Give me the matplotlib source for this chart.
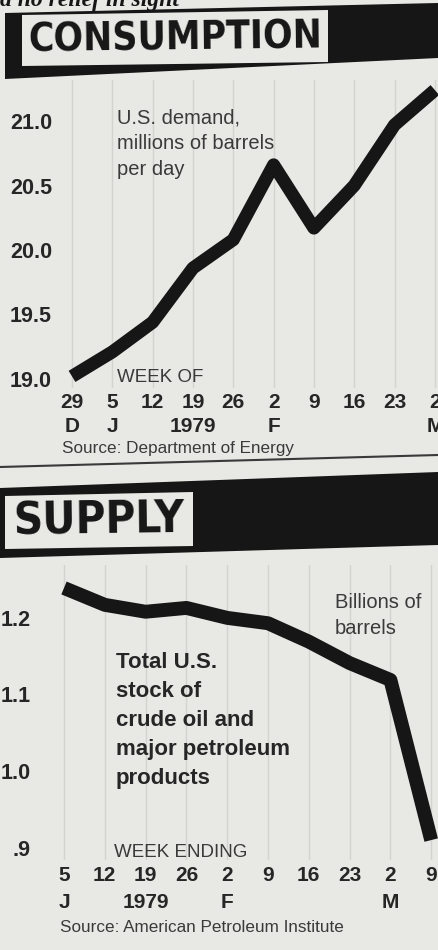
import os
import matplotlib
matplotlib.use('Agg')
import matplotlib.pyplot as plt
from matplotlib import font_manager
from matplotlib.font_manager import FontProperties
from matplotlib.patches import Polygon

W, H, DPI = 438, 950, 100

# ---------------- data ----------------
cons_weeks = ['29', '5', '12', '19', '26', '2', '9', '16', '23', '2']
cons_months = ['D', 'J', '', '1979', '', 'F', '', '', '', 'M']
cons_values = [19.02, 19.21, 19.44, 19.86, 20.08, 20.66, 20.17, 20.50, 20.97, 21.24]
cons_yticks = [19.0, 19.5, 20.0, 20.5, 21.0]
cons_ylabels = ['19.0', '19.5', '20.0', '20.5', '21.0']

sup_weeks = ['5', '12', '19', '26', '2', '9', '16', '23', '2', '9']
sup_months = ['J', '', '1979', '', 'F', '', '', '', 'M', '']
sup_values = [1.239, 1.217, 1.208, 1.213, 1.200, 1.193, 1.169, 1.141, 1.119, 0.910]
sup_yticks = [0.9, 1.0, 1.1, 1.2]
sup_ylabels = ['.9', '1.0', '1.1', '1.2']

# ---------------- style ----------------
BG = '#e8e8e5'
INK = '#161616'
GRID = '#d3d3cf'
TXT = '#262626'
LIGHT = '#3a3a3a'
SANS = ['Liberation Sans', 'DejaVu Sans']


def find_title_font():
    prefs = ['NotoSans-CondensedBold', 'LiberationSansNarrow-Bold', 'DejaVuSansCondensed-Bold',
             'RobotoCondensed-Bold']
    files = [f.fname for f in font_manager.fontManager.ttflist]
    for p in prefs:
        for f in files:
            if os.path.basename(f).startswith(p):
                return FontProperties(fname=f)
    return FontProperties(family=['Roboto', 'DejaVu Sans'], weight='bold')


TITLE_FP = find_title_font()

fig = plt.figure(figsize=(W / DPI, H / DPI), dpi=DPI, facecolor=BG)


def axes_px(left, top, right, bottom):
    return fig.add_axes([left / W, 1 - bottom / H, (right - left) / W, (bottom - top) / H])


def style_chart(ax):
    ax.patch.set_alpha(0)
    for s in ax.spines.values():
        s.set_visible(False)
    ax.grid(axis='x', color=GRID, lw=1.0)
    ax.grid(axis='y', visible=False)
    ax.set_axisbelow(True)


# ---------------- consumption chart ----------------
ax1 = axes_px(60, 80, 478, 388)
style_chart(ax1)
ax1.set_xlim(-0.298, 10.07)
ax1.set_ylim(18.93, 21.318)
ax1.plot(range(len(cons_values)), cons_values, color=INK, lw=9.4,
         solid_joinstyle='round', solid_capstyle='butt')
ax1.set_xticks(range(len(cons_weeks)),
               [w + ('\n' + m if m else '') for w, m in zip(cons_weeks, cons_months)],
               fontsize=15, fontweight='bold', color=TXT, family=SANS, linespacing=1.35)
ax1.set_yticks(cons_yticks, cons_ylabels, fontsize=15.5, fontweight='bold', color=TXT, family=SANS)
ax1.tick_params(axis='x', length=0, pad=3.3)
ax1.tick_params(axis='y', length=0, pad=5.8)

# ---------------- supply chart ----------------
ax2 = axes_px(40, 565, 478, 860)
style_chart(ax2)
ax2.set_xlim(-0.588, 10.147)
ax2.set_ylim(0.884, 1.269)
ax2.plot(range(len(sup_values)), sup_values, color=INK, lw=10,
         solid_joinstyle='round', solid_capstyle='butt')
ax2.set_xticks(range(len(sup_weeks)),
               [w + ('\n' + m if m else '') for w, m in zip(sup_weeks, sup_months)],
               fontsize=15, fontweight='bold', color=TXT, family=SANS, linespacing=1.5)
ax2.set_yticks(sup_yticks, sup_ylabels, fontsize=15.5, fontweight='bold', color=TXT, family=SANS)
ax2.tick_params(axis='x', length=0, pad=4.5)
ax2.tick_params(axis='y', length=0, pad=6.5)

# ---------------- overlay (pixel coordinates) ----------------
ov = fig.add_axes([0, 0, 1, 1])
ov.set_xlim(0, W)
ov.set_ylim(H, 0)
ov.axis('off')
ov.patch.set_alpha(0)

# cut-off headline text at the very top
ov.text(0, 6, 'a no relief in sight', fontsize=17, fontweight='bold', style='italic',
        family=['Liberation Serif', 'DejaVu Serif'], color=INK, va='baseline', ha='left')

# consumption banner
ov.add_patch(Polygon([(5, 13), (438, 3), (438, 58), (5, 79)], closed=True, color=INK, lw=0))
ov.add_patch(Polygon([(22, 15), (328, 10), (328, 62), (22, 66)], closed=True, color=BG, lw=0))
# supply banner
ov.add_patch(Polygon([(0, 488), (438, 472), (438, 545), (0, 558)], closed=True, color=INK, lw=0))
ov.add_patch(Polygon([(5, 496), (193, 492), (193, 546), (5, 549)], closed=True, color=BG, lw=0))

# divider
ov.plot([0, 438], [467, 455], color='#3a3a3a', lw=1.5)


def fit_title(x, y, s, width, max_fs):
    t = ov.text(x, y, s, fontproperties=TITLE_FP, fontsize=max_fs, color=INK,
                ha='center', va='center', rotation=0.7)
    fig.canvas.draw()
    bb = t.get_window_extent()
    fs = min(max_fs, max_fs * width / bb.width)
    t.set_fontsize(fs)
    return t


fit_title(175, 39, 'CONSUMPTION', 294, 38)
fit_title(99, 521, 'SUPPLY', 172, 38)

# consumption annotations
for i, line in enumerate(['U.S. demand,', 'millions of barrels', 'per day']):
    ov.text(117, 123 + 26 * i, line, fontsize=14.5, color=LIGHT, family=SANS,
            va='baseline', ha='left')
ov.text(117, 382, 'WEEK OF', fontsize=13.5, color=LIGHT, family=SANS, va='baseline', ha='left')
ov.text(62, 453, 'Source: Department of Energy', fontsize=12.3, color=LIGHT, family=SANS,
        va='baseline', ha='left')

# supply annotations
for i, line in enumerate(['Total U.S.', 'stock of', 'crude oil and', 'major petroleum', 'products']):
    ov.text(116, 668 + 29 * i, line, fontsize=16, fontweight='bold', color=TXT, family=SANS,
            va='baseline', ha='left')
for i, line in enumerate(['Billions of', 'barrels']):
    ov.text(335, 608 + 26 * i, line, fontsize=14.5, color=LIGHT, family=SANS,
            va='baseline', ha='left')
ov.text(114, 857, 'WEEK ENDING', fontsize=13.5, color=LIGHT, family=SANS, va='baseline', ha='left')
ov.text(60, 932, 'Source: American Petroleum Institute', fontsize=12.3, color=LIGHT, family=SANS,
        va='baseline', ha='left')

fig.savefig('out.png', dpi=DPI, facecolor=BG)
